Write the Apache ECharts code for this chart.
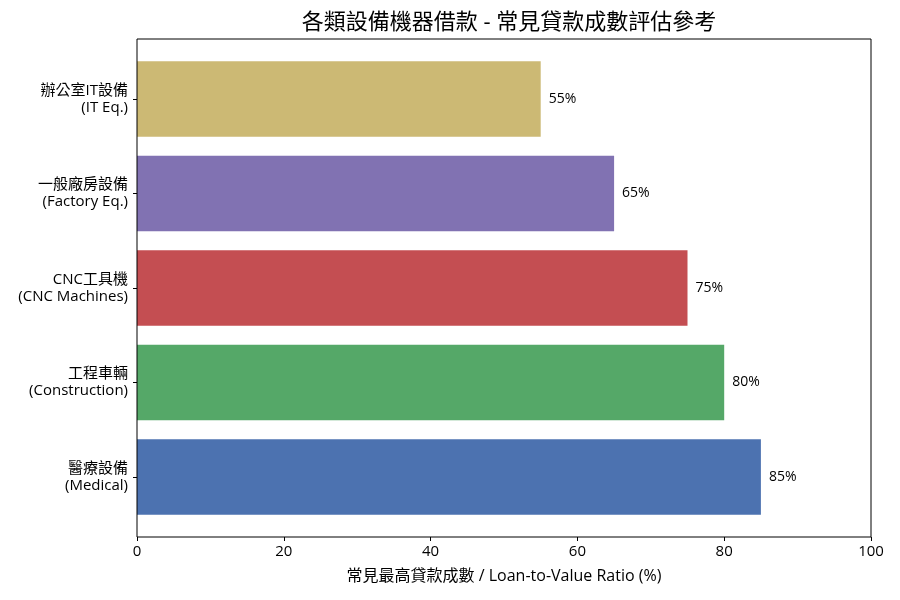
<!DOCTYPE html>
<html><head><meta charset="utf-8">
<script src="https://cdn.jsdelivr.net/npm/echarts@6/dist/echarts.min.js"></script>
<style>html,body{margin:0;padding:0;background:#fff}#c{width:900px;height:600px}</style>
</head><body><div id="c"></div>
<script>
const categories = ['醫療設備\n(Medical)', '工程車輛\n(Construction)', 'CNC工具機\n(CNC Machines)', '一般廠房設備\n(Factory Eq.)', '辦公室IT設備\n(IT Eq.)'];
const ratios = [85, 80, 75, 65, 55];
const colors = ['#4c72b0', '#55a868', '#c44e52', '#8172b2', '#ccb974'];
const xTicks = [0, 20, 40, 60, 80, 100];
const F = '"Open Sans", "Noto Sans CJK TC", sans-serif';
const chart = echarts.init(document.getElementById('c'));
chart.setOption({
  animation: false,
  textStyle: { fontFamily: F },
  title: { text: '各類設備機器借款 - 常見貸款成數評估參考', left: 504, textAlign: 'center', top: 7,
    textStyle: { fontSize: 22, fontWeight: 'normal', color: '#000', fontFamily: F } },
  grid: { left: 137, right: 29, top: 51.75, bottom: 75.75 },
  graphic: [{ type: 'rect', shape: { x: 137, y: 39, width: 734, height: 498 },
    style: { fill: null, stroke: '#000', lineWidth: 1 }, z: 100 }],
  xAxis: { type: 'value', min: 0, max: 100, interval: 20, offset: 12.75,
    axisLine: { show: false },
    axisTick: { show: true, length: 4, lineStyle: { color: '#000' } },
    splitLine: { show: false },
    axisLabel: { color: '#000', fontSize: 15, margin: 7, fontFamily: F,
      formatter: v => xTicks.includes(v) ? String(v) : '' },
    name: '常見最高貸款成數 / Loan-to-Value Ratio (%)', nameLocation: 'middle', nameGap: 31,
    nameTextStyle: { color: '#000', fontSize: 16, fontFamily: F } },
  yAxis: { type: 'category', data: categories,
    axisLine: { show: false },
    axisTick: { show: true, alignWithLabel: true, length: 4, lineStyle: { color: '#000' } },
    axisLabel: { color: '#000', fontSize: 15, margin: 9, align: 'right', lineHeight: 17, fontFamily: F } },
  series: [{ type: 'bar', barCategoryGap: '20%',
    data: ratios.map((v, i) => ({ value: v, itemStyle: { color: colors[i] } })),
    label: { show: true, position: 'right', distance: 8, formatter: '{c}%', color: '#000', fontSize: 14, fontFamily: F } }]
});
</script></body></html>
